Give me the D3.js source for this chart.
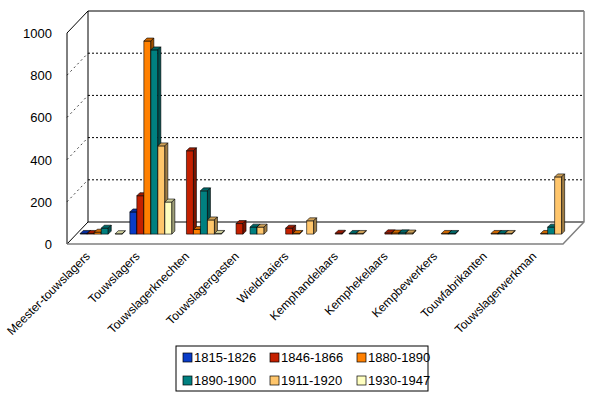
<!DOCTYPE html>
<html>
<head>
<meta charset="utf-8">
<script src="https://cdn.jsdelivr.net/npm/d3@7"></script>
<style>
  body { margin: 0; background: #fff; }
  svg { display: block; font-family: "Liberation Sans", Arial, sans-serif; }
</style>
</head>
<body>
<svg width="590" height="393"></svg>
<script>
// categories on the x axis
const categories = ["Meester-touwslagers", "Touwslagers", "Touwslagerknechten", "Touwslagergasten",
  "Wieldraaiers", "Kemphandelaars", "Kemphekelaars", "Kempbewerkers", "Touwfabrikanten", "Touwslagerwerkman"];
const seriesNames = ["1815-1826", "1846-1866", "1880-1890", "1890-1900", "1911-1920", "1930-1947"];
// one array per period, null = no bar
const v1815 = [3, 105, null, null, null, null, null, null, null, null];
const v1846 = [3, 182, 395, 50, 28, 4, 6, null, null, null];
const v1880 = [9, 915, 22, null, 3, null, 5, 3, 3, 3];
const v1890 = [28, 873, 205, 33, null, 3, 6, 3, 3, 33];
const v1911 = [null, 418, 67, 33, 63, 3, 5, null, 3, 271];
const v1930 = [2, 152, 3, null, null, null, null, null, null, null];
const yTicks = [0, 200, 400, 600, 800, 1000];
const seriesColors = ["#0a3cc8", "#c42000", "#ff8000", "#008080", "#ffc66c", "#ffffc0"];

const allValues = [v1815, v1846, v1880, v1890, v1911, v1930];

const svg = d3.select("svg");
const depthX = 21, depthY = 22;   // offset from front plane to back wall
const barF = 0.45;                // bars sit at this fraction of the depth

let xFront = d3.scaleBand().domain(categories).range([67, 563]);
let yFront = d3.scaleLinear().domain([0, 1000]).range([244, 33]);
let xSeries = d3.scaleBand().domain(seriesNames).range([0, 42]);

function px(x, f) { return x + f * depthX; }
function py(y, f) { return y - f * depthY; }

// back wall
const bx0 = px(67, 1), bx1 = px(563, 1);
svg.append("rect").attr("x", bx0).attr("y", py(yFront(1000), 1))
  .attr("width", bx1 - bx0).attr("height", yFront(0) - yFront(1000))
  .attr("fill", "#fff");

// gridlines: back wall + left side wall
const grid = svg.append("g");
yTicks.filter(d => d > 0 && d < 1000).forEach(v => {
  grid.append("line")
    .attr("x1", bx0).attr("x2", bx1)
    .attr("y1", py(yFront(v), 1)).attr("y2", py(yFront(v), 1))
    .attr("stroke", "#000").attr("stroke-dasharray", "2,2");
  grid.append("line")
    .attr("x1", 67).attr("x2", bx0)
    .attr("y1", yFront(v)).attr("y2", py(yFront(v), 1))
    .attr("stroke", "#444").attr("stroke-dasharray", "2,3");
});

// frame lines
const frame = svg.append("g").attr("fill", "none");
frame.append("path")  // left wall + back top
  .attr("d", d3.line()([[67, yFront(0)], [67, yFront(1000)], [bx0, py(yFront(1000), 1)],
    [bx1, py(yFront(1000), 1)]]))
  .attr("stroke", "#000");
frame.append("line").attr("x1", bx0).attr("x2", bx0)
  .attr("y1", py(yFront(1000), 1)).attr("y2", py(yFront(0), 1)).attr("stroke", "#000");
frame.append("line").attr("x1", bx0).attr("x2", bx1)
  .attr("y1", py(yFront(0), 1)).attr("y2", py(yFront(0), 1)).attr("stroke", "#000");
frame.append("line").attr("x1", 67).attr("x2", bx0)
  .attr("y1", yFront(0)).attr("y2", py(yFront(0), 1)).attr("stroke", "#000");
frame.append("path")  // right edge + floor front edge
  .attr("d", d3.line()([[bx1, py(yFront(1000), 1)], [bx1, py(yFront(0), 1)],
    [563, yFront(0)], [67, yFront(0)]]))
  .attr("stroke", "#808080").attr("stroke-width", 1.5);

// bars, drawn category by category, left to right
const bars = svg.append("g").attr("stroke", "#000").attr("stroke-width", 0.6)
  .attr("stroke-linejoin", "round");
const bw = xSeries.bandwidth(), bd = 3;
const inner = (xFront.bandwidth() - 42) / 2;
categories.forEach((cat, ci) => {
  seriesNames.forEach((s, si) => {
    const v = allValues[si][ci];
    if (v === null) return;
    const x0 = px(xFront(cat) + inner + xSeries(s), barF);
    const yb = py(yFront(0), barF);
    const yt = py(yFront(v), barF);
    const c = d3.color(seriesColors[si]);
    bars.append("rect").attr("x", x0).attr("y", yt)
      .attr("width", bw).attr("height", yb - yt).attr("fill", c);
    bars.append("path")
      .attr("d", d3.line()([[x0, yt], [x0 + bw, yt], [x0 + bw + bd, yt - bd], [x0 + bd, yt - bd]]) + "Z")
      .attr("fill", c.darker(0.6));
    bars.append("path")
      .attr("d", d3.line()([[x0 + bw, yt], [x0 + bw + bd, yt - bd], [x0 + bw + bd, yb - bd], [x0 + bw, yb]]) + "Z")
      .attr("fill", c.darker(1.3));
  });
});

// y axis labels
svg.append("g").selectAll("text").data(yTicks).enter().append("text")
  .attr("x", 52).attr("y", d => yFront(d) + 5)
  .attr("text-anchor", "end").attr("font-size", 13).text(d => d);

// category labels
svg.append("g").selectAll("text").data(categories).enter().append("text")
  .attr("transform", d => "translate(" + (xFront(d) + xFront.bandwidth() / 2 - 1) + "," + 257 + ") rotate(-45)")
  .attr("text-anchor", "end").attr("font-size", 12).text(d => d);

// legend
const legend = svg.append("g").attr("transform", "translate(176,346)");
legend.append("rect").attr("width", 252).attr("height", 45)
  .attr("fill", "#fff").attr("stroke", "#000");
const legItems = legend.selectAll("g").data(seriesNames).enter().append("g")
  .attr("transform", (d, i) => "translate(" + (7 + (i % 3) * 87) + "," + (11 + Math.floor(i / 3) * 23) + ")");
legItems.append("rect").attr("x", 0).attr("y", -4).attr("width", 9).attr("height", 9)
  .attr("fill", (d, i) => seriesColors[i]).attr("stroke", "#000").attr("stroke-width", 0.7);
legItems.append("text").attr("x", 11).attr("y", 5).attr("font-size", 13).text(d => d);
</script>
</body>
</html>
